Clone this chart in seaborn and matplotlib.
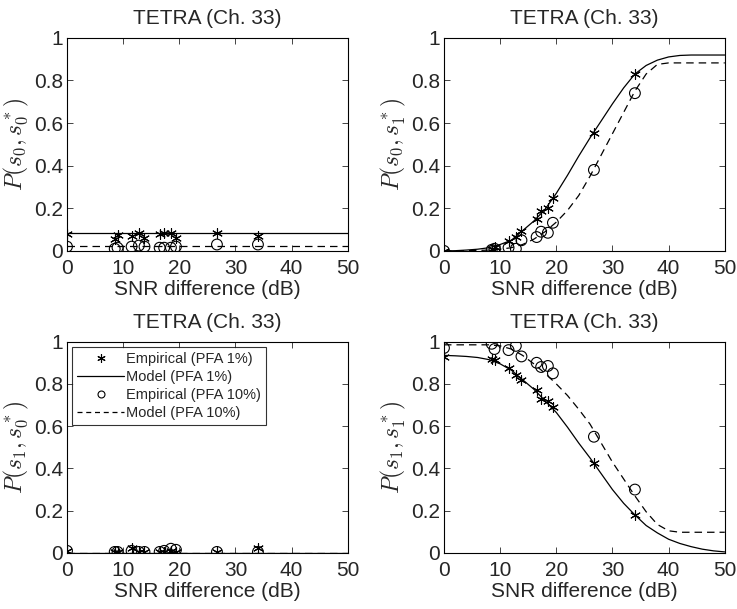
import matplotlib
matplotlib.use('Agg')
import matplotlib.pyplot as plt
import seaborn as sns
from matplotlib.lines import Line2D

# Empirical measurements (SNR difference in dB)
snr = [0, 8.5, 9, 11.5, 12.8, 13.8, 16.5, 17.3, 18.5, 19.4, 26.7, 34]

emp_s0s0_pfa1 = [0.08, 0.055, 0.075, 0.07, 0.085, 0.06, 0.08, 0.085, 0.085, 0.06, 0.085, 0.07]
emp_s0s0_pfa10 = [0.02, 0.01, 0.015, 0.02, 0.025, 0.02, 0.015, 0.015, 0.015, 0.02, 0.03, 0.03]
emp_s0s1_pfa1 = [0.0, 0.01, 0.02, 0.047, 0.063, 0.095, 0.152, 0.188, 0.2, 0.25, 0.553, 0.83]
emp_s0s1_pfa10 = [0.0, 0.005, 0.01, 0.015, 0.01, 0.05, 0.065, 0.09, 0.085, 0.132, 0.38, 0.74]
emp_s1s0_pfa1 = [0.01, 0.005, 0.005, 0.025, 0.005, 0.005, 0.005, 0.005, 0.01, 0.005, 0.005, 0.025]
emp_s1s0_pfa10 = [0.01, 0.005, 0.005, 0.01, 0.005, 0.005, 0.005, 0.01, 0.02, 0.015, 0.005, 0.005]
emp_s1s1_pfa1 = [0.925, 0.92, 0.915, 0.875, 0.84, 0.82, 0.77, 0.73, 0.72, 0.69, 0.425, 0.18]
emp_s1s1_pfa10 = [0.97, 0.99, 0.965, 0.96, 0.98, 0.93, 0.9, 0.88, 0.885, 0.85, 0.55, 0.3]

# Model curves
model_x = [0, 2, 4, 6, 8, 10, 12, 14, 16, 18, 20, 22, 24, 26, 28, 30, 32, 34, 36, 38, 40, 42, 44, 46, 48, 50]
mod_s0s0_pfa1 = [0.083] * 26
mod_s0s0_pfa10 = [0.025] * 26
mod_s0s1_pfa1 = [0.0, 0.001, 0.004, 0.008, 0.015, 0.03, 0.05, 0.095, 0.14, 0.195, 0.27, 0.355, 0.445, 0.53,
                 0.61, 0.69, 0.765, 0.83, 0.87, 0.895, 0.91, 0.917, 0.919, 0.919, 0.919, 0.919]
mod_s0s1_pfa10 = [0.0, 0.0, 0.001, 0.002, 0.004, 0.008, 0.015, 0.03, 0.055, 0.09, 0.135, 0.19, 0.26, 0.35,
                  0.45, 0.55, 0.65, 0.75, 0.83, 0.875, 0.882, 0.882, 0.882, 0.882, 0.882, 0.882]
mod_s1s0_pfa1 = [0.001] * 26
mod_s1s0_pfa10 = [0.002] * 26
mod_s1s1_pfa1 = [0.935, 0.933, 0.93, 0.925, 0.915, 0.895, 0.865, 0.82, 0.775, 0.72, 0.665, 0.595, 0.52, 0.45,
                 0.375, 0.3, 0.235, 0.18, 0.13, 0.095, 0.065, 0.045, 0.03, 0.018, 0.01, 0.005]
mod_s1s1_pfa10 = [0.985, 0.985, 0.985, 0.985, 0.985, 0.98, 0.965, 0.935, 0.895, 0.85, 0.8, 0.745, 0.68, 0.61,
                  0.52, 0.43, 0.35, 0.27, 0.195, 0.135, 0.105, 0.098, 0.098, 0.098, 0.098, 0.098]

ylabels = [r'$P(s_0, s_0^*)$', r'$P(s_0, s_1^*)$', r'$P(s_1, s_0^*)$', r'$P(s_1, s_1^*)$']
panels = [
    (emp_s0s0_pfa1, emp_s0s0_pfa10, mod_s0s0_pfa1, mod_s0s0_pfa10),
    (emp_s0s1_pfa1, emp_s0s1_pfa10, mod_s0s1_pfa1, mod_s0s1_pfa10),
    (emp_s1s0_pfa1, emp_s1s0_pfa10, mod_s1s0_pfa1, mod_s1s0_pfa10),
    (emp_s1s1_pfa1, emp_s1s1_pfa10, mod_s1s1_pfa1, mod_s1s1_pfa10),
]

sns.set_style('ticks')
plt.rcParams['font.family'] = ['Liberation Sans', 'DejaVu Sans']
plt.rcParams['mathtext.fontset'] = 'cm'

star = (6, 2, 0)

fig = plt.figure(figsize=(7.37, 6.09), dpi=100)
rects = [
    [0.0909, 0.588, 0.381, 0.35],
    [0.6024, 0.588, 0.381, 0.35],
    [0.0909, 0.092, 0.381, 0.347],
    [0.6024, 0.092, 0.381, 0.347],
]

for i, (rect, data) in enumerate(zip(rects, panels)):
    ax = fig.add_axes(rect)
    e1, e10, m1, m10 = data
    sns.lineplot(x=model_x, y=m1, color='k', linewidth=0.9, ax=ax)
    sns.lineplot(x=model_x, y=m10, color='k', linewidth=0.9, linestyle=(0, (6, 4)), ax=ax)
    sns.scatterplot(x=snr, y=e1, marker=star, s=50, color='k', edgecolor='k', linewidth=0.8, ax=ax, zorder=3)
    sns.scatterplot(x=snr, y=e10, marker='o', s=60, facecolor='none', edgecolor='k', linewidth=0.8, ax=ax, zorder=3)
    ax.set_xlim(0, 50)
    ax.set_ylim(0, 1)
    ax.set_xticks([0, 10, 20, 30, 40, 50])
    ax.set_yticks([0, 0.2, 0.4, 0.6, 0.8, 1])
    ax.set_yticklabels(['0', '0.2', '0.4', '0.6', '0.8', '1'])
    ax.tick_params(direction='in', top=True, right=True, labelsize=15, length=4, width=0.6)
    ax.tick_params(axis='x', pad=6)
    ax.tick_params(axis='y', pad=3)
    for sp in ax.spines.values():
        sp.set_linewidth(0.8)
        sp.set_color('k')
    ax.set_title('TETRA (Ch. 33)', fontsize=15, pad=10)
    ax.set_xlabel('SNR difference (dB)', fontsize=15, labelpad=1)
    ax.set_ylabel(ylabels[i], fontsize=17, labelpad=2)

    if i == 2:
        handles = [
            Line2D([], [], color='k', marker=star, linestyle='none', markersize=6, markeredgewidth=0.8),
            Line2D([], [], color='k', linewidth=0.9),
            Line2D([], [], color='k', marker='o', markerfacecolor='none', linestyle='none', markersize=5, markeredgewidth=0.8),
            Line2D([], [], color='k', linewidth=0.9, linestyle=(0, (4, 3))),
        ]
        labels = ['Empirical (PFA 1%)', 'Model (PFA 1%)', 'Empirical (PFA 10%)', 'Model (PFA 10%)']
        leg = ax.legend(handles, labels, loc='upper left', fontsize=10.5, frameon=True, fancybox=False,
                        edgecolor='k', handlelength=3.2, borderpad=0.35, labelspacing=0.28,
                        handletextpad=0.15, borderaxespad=0.35)
        leg.get_frame().set_linewidth(0.8)

fig.savefig('out.png', dpi=100)
